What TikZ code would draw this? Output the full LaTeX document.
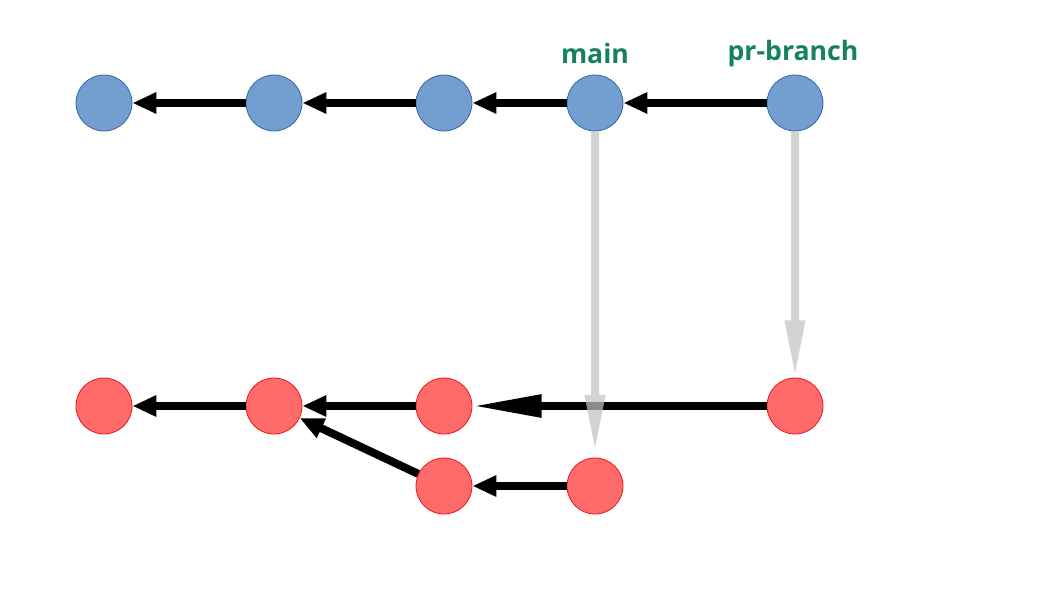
\documentclass[tikz,border=0pt]{standalone}
\usepackage{fontspec}
\setmainfont{Open Sans}
\usetikzlibrary{arrows.meta}
\definecolor{bluefill}{RGB}{114,159,207}
\definecolor{blueline}{RGB}{52,101,164}
\definecolor{redfill}{RGB}{255,107,107}
\definecolor{redline}{RGB}{240,20,20}
\definecolor{labelgreen}{RGB}{22,128,96}
\definecolor{rebasegray}{RGB}{194,194,194}
\tikzset{
    blue commit/.style = {circle, fill = bluefill, draw = blueline, line width = 0.6pt, minimum size = 42pt, inner sep = 0pt},
    red commit/.style = {circle, fill = redfill, draw = redline, line width = 0.6pt, minimum size = 42pt, inner sep = 0pt},
    parent/.style = {line width = 6pt, -{Triangle[length = 18pt, width = 15pt]}},
    rebase/.style = {line width = 6pt, draw = rebasegray, fill = rebasegray, -{Triangle[length = 43pt, width = 14pt]}},
    branch/.style = {font = \bfseries\fontsize{20}{24}\selectfont, text = labelgreen}
}
\begin{document}
\begin{tikzpicture}[x=0.75pt, y=-0.75pt]
                \useasboundingbox (0,0) rectangle (1058,595);
                % original commits
                \node[blue commit] (b1) at (104,103) {};
                \node[blue commit] (b2) at (274,103) {};
                \node[blue commit] (b3) at (444,103) {};
                \node[blue commit] (b4) at (595,103) {};
                \node[blue commit] (b5) at (795,103) {};
                \node[branch] (main) at (595,54) {main};
                \node[branch] (pr) at (793,54) {pr-branch};
                % rewritten commits
                \node[red commit] (r1) at (104,406) {};
                \node[red commit] (r2) at (274,406) {};
                \node[red commit] (r3) at (444,406) {};
                \node[red commit] (r4) at (795,406) {};
                \node[red commit] (r5) at (444,486) {};
                \node[red commit] (r6) at (595,486) {};
                \draw[parent] (b2) -- (b1);
                \draw[parent] (b3) -- (b2);
                \draw[parent] (b4) -- (b3);
                \draw[parent] (b5) -- (b4);
                \draw[parent] (r2) -- (r1);
                \draw[parent] (r3) -- (r2);
                \draw[line width = 6pt, -{Triangle[length = 52pt, width = 16pt]}] (r4) -- (r3);
                \draw[parent] (r5) -- (r2);
                \draw[parent] (r6) -- (r5);
                \begin{scope}[opacity = 0.72, transparency group]
                \draw[rebase, shorten >= 4pt] (b4) -- (r6);
                \draw[rebase] (b5) -- (r4);
                \end{scope}
            \end{tikzpicture}
\end{document}
